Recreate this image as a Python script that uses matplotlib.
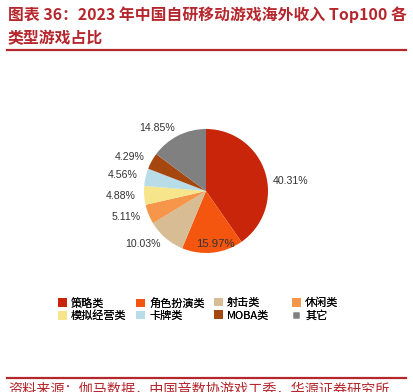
import numpy as np
import matplotlib
matplotlib.use("Agg")
import matplotlib.pyplot as plt
from matplotlib.patches import Patch
from matplotlib.lines import Line2D

plt.rcParams['font.family'] = ['Noto Sans CJK SC', 'DejaVu Sans']

### Data
categories = ['策略类', '角色扮演类', '射击类', '休闲类', '模拟经营类', '卡牌类', 'MOBA类', '其它']
shares = [40.31, 15.97, 10.03, 5.11, 4.88, 4.56, 4.29, 14.85]
colors = ['#C8250A', '#F5560F', '#D8BC94', '#F5964A', '#F7E58C', '#B9DDE8', '#A5470F', '#808080']

title_text = '图表 36：2023 年中国自研移动游戏海外收入 Top100 各\n类型游戏占比'
source_text = '资料来源：伽马数据，中国音数协游戏工委，华源证券研究所'
red = '#B5272D'

W, H = 413, 392
fig = plt.figure(figsize=(W / 100, H / 100), dpi=100)

### Title and rules
fig.text(8 / W, 1 - 6 / H, title_text, ha='left', va='top', fontsize=11.4,
         fontweight='bold', color=red, linespacing=1.6)
fig.add_artist(Line2D([7 / W, 406 / W], [1 - 50 / H, 1 - 50 / H], color=red, lw=1.6))
fig.add_artist(Line2D([7 / W, 406 / W], [1 - 378 / H, 1 - 378 / H], color=red, lw=1.6))
fig.text(8 / W, 1 - 383 / H, source_text, ha='left', va='top', fontsize=10.2, color=red)

### Pie
ax = fig.add_axes([113 / W, 108 / H, 186 / W, 186 / H])
labels = ['%.2f%%' % v for v in shares]
wedges, texts = ax.pie(shares, colors=colors, startangle=90, counterclock=False,
                       labels=labels, labeldistance=1.13,
                       textprops=dict(fontsize=7.6, color='#333333', family='Liberation Sans'))
ax.set_xlim(-1.5, 1.5)
ax.set_ylim(-1.5, 1.5)
ax.set_aspect('equal')
ax.axis('off')

# move the role-playing label inside its wedge, nudge the big one down
w = wedges[1]
ang = np.deg2rad((w.theta1 + w.theta2) / 2)
texts[1].set_position((0.86 * np.cos(ang) + 0.06, 0.86 * np.sin(ang)))
texts[1].set_ha('center')
texts[1].set_fontsize(8.2)
x0, y0 = texts[0].get_position()
texts[0].set_position((x0, y0 - 0.17))

### Legend: four columns of two entries, evenly spaced like the original
col_x = [50, 128, 206, 284]
for k, cx in enumerate(col_x):
    idx = [k, k + 4]
    hs = []
    for i in idx:
        if categories[i] == '其它':
            hs.append(Line2D([0], [0], marker='s', color='none', markerfacecolor=colors[i],
                             markeredgecolor='none', markersize=4.5))
        else:
            hs.append(Patch(facecolor=colors[i], edgecolor='none'))
    leg = fig.legend(hs, [categories[i] for i in idx], loc='upper left',
                     bbox_to_anchor=(cx / W, 1 - 290 / H), frameon=False, fontsize=8,
                     handlelength=0.8, handleheight=0.8, handletextpad=0.4,
                     labelspacing=0.2, borderpad=0.2)
    fig.add_artist(leg)

plt.savefig('out.png', dpi=100)
